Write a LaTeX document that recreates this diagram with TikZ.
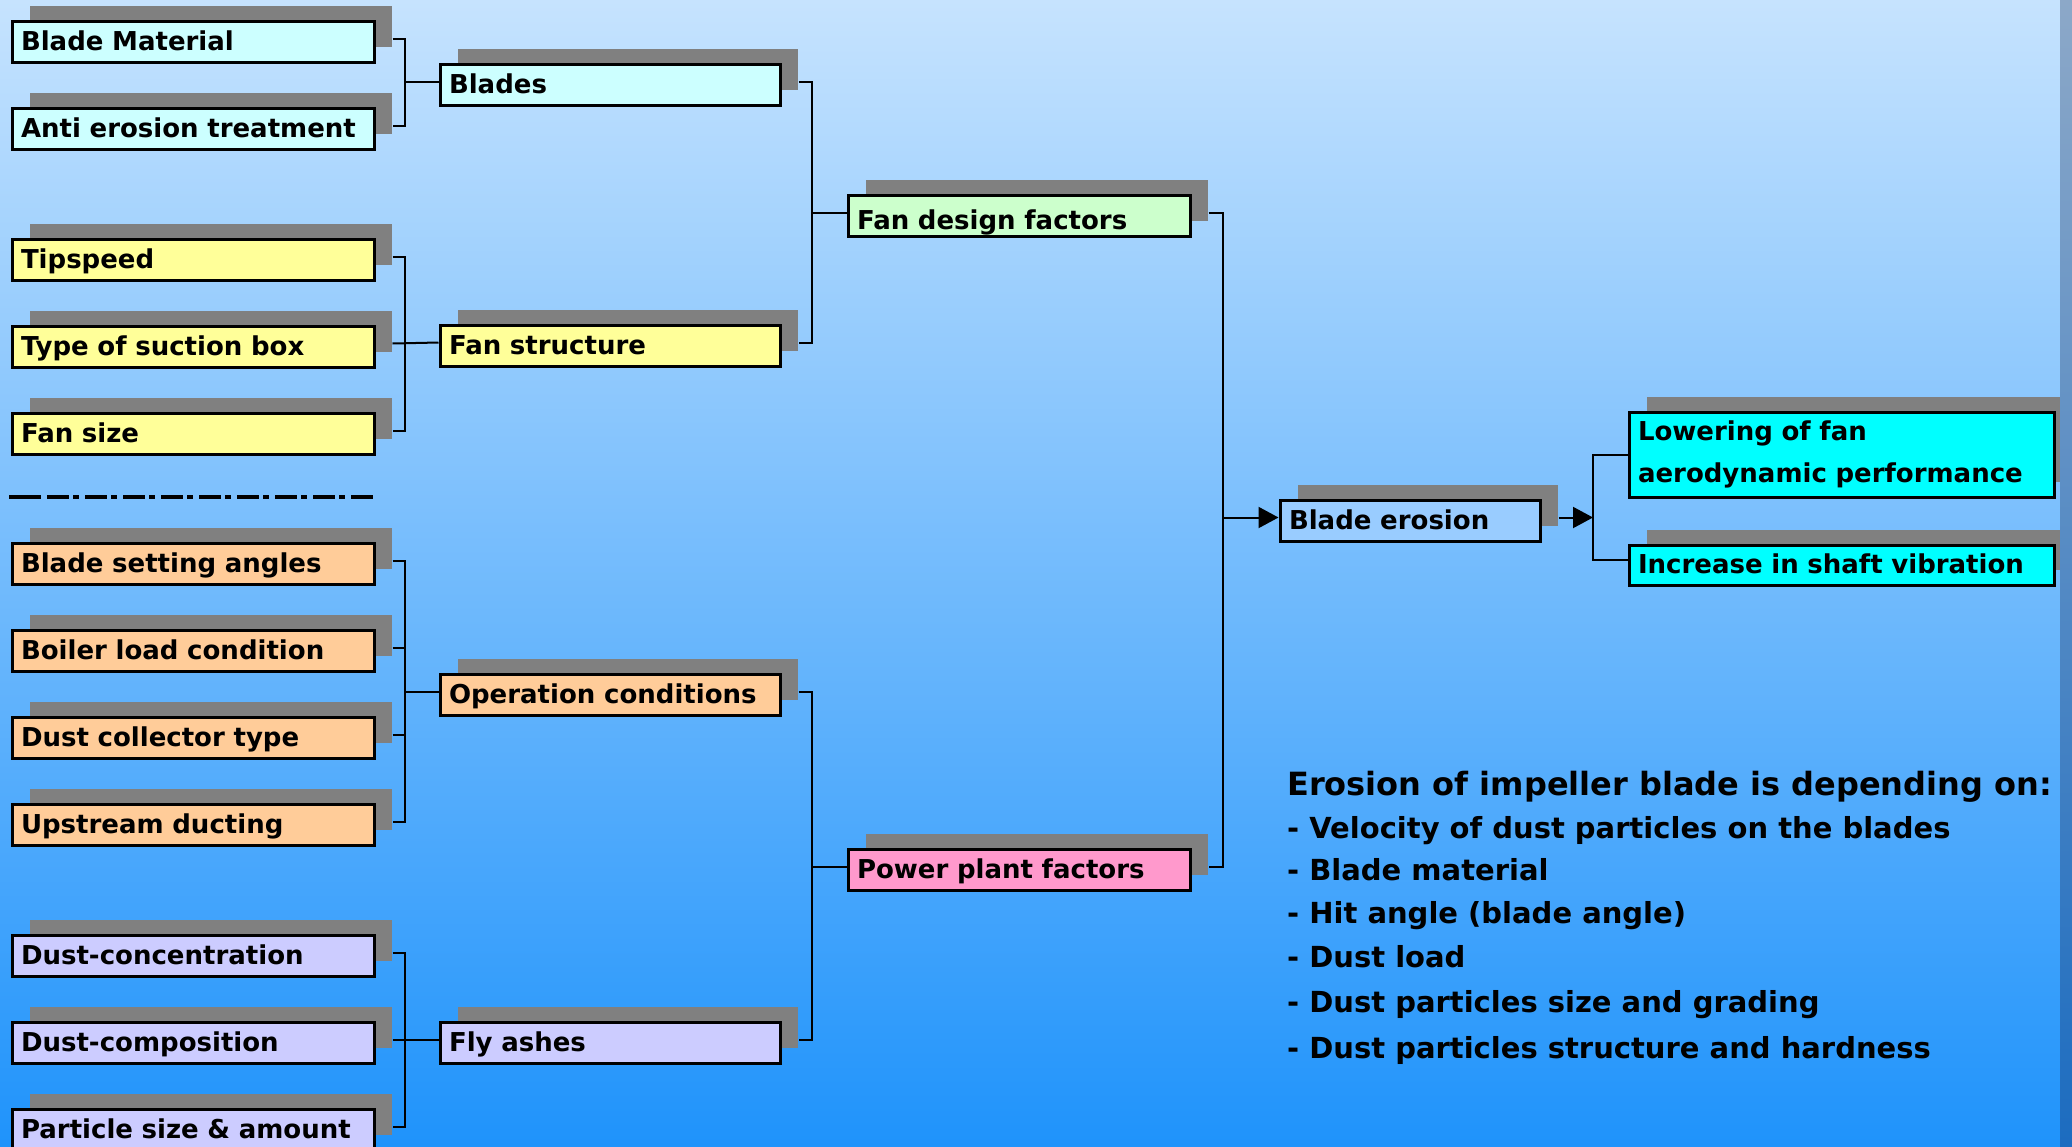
\documentclass[tikz,border=0pt]{standalone}
\usepackage{fontspec}
\setmainfont{DejaVu Sans}
\usetikzlibrary{shadows,arrows.meta,calc}
\definecolor{bgtop}{HTML}{C6E3FE}
\definecolor{bgmid}{HTML}{8AC2FB}
\definecolor{bgbot}{HTML}{1F93FB}
\definecolor{striptop}{HTML}{8CA8C8}
\definecolor{stripbot}{HTML}{1C6CC0}
\definecolor{cyanlt}{HTML}{CCFFFF}
\definecolor{yellowlt}{HTML}{FFFF99}
\definecolor{greenlt}{HTML}{CCFFCC}
\definecolor{orangelt}{HTML}{FFCC99}
\definecolor{pinklt}{HTML}{FF99CC}
\definecolor{lavlt}{HTML}{CCCCFF}
\definecolor{erosionc}{HTML}{99CCFF}
\definecolor{effectc}{HTML}{00FFFF}
\definecolor{shadowc}{HTML}{808080}
\begin{document}
\begin{tikzpicture}[x=1pt,y=-1pt,
  box/.style={draw=black, line width=3pt, inner xsep=9pt, inner ysep=0pt,
    anchor=north west, minimum height=41pt, text height=21pt, text depth=4pt,
    align=left, font=\fontsize{26pt}{31pt}\selectfont\bfseries,
    drop shadow={shadow xshift=18pt, shadow yshift=15pt, fill=shadowc, opacity=1}},
  c1/.style={box, text width=344pt},
  c2/.style={box, text width=322pt},
  c3/.style={box, text width=324pt},
  c4/.style={box, text width=242pt},
  c5/.style={box, text width=407pt},
  conn/.style={draw=black, line width=2pt},
  arr/.style={conn, -{Triangle[length=20pt,width=21pt]}},
  rt/.style={anchor=base west, inner sep=0pt, font=\fontsize{29pt}{35pt}\selectfont\bfseries}
]
\useasboundingbox (0,0) rectangle (2072,1146);
\shade[top color=bgtop, middle color=bgmid, bottom color=bgbot] (0,0) rectangle (2072,1146);

% column 1
\node[c1, fill=cyanlt] (bm) at (10.5,19.5) {Blade Material};
\node[c1, fill=cyanlt] (ae) at (10.5,106.5) {Anti erosion treatment};
\node[c1, fill=yellowlt] (ts) at (10.5,237.5) {Tipspeed};
\node[c1, fill=yellowlt] (sb) at (10.5,324.5) {Type of suction box};
\node[c1, fill=yellowlt] (fs) at (10.5,411.5) {Fan size};
\node[c1, fill=orangelt] (ba) at (10.5,541.5) {Blade setting angles};
\node[c1, fill=orangelt] (bl) at (10.5,628.5) {Boiler load condition};
\node[c1, fill=orangelt] (dc) at (10.5,715.5) {Dust collector type};
\node[c1, fill=orangelt] (ud) at (10.5,802.5) {Upstream ducting};
\node[c1, fill=lavlt] (dn) at (10.5,933.5) {Dust-concentration};
\node[c1, fill=lavlt] (dp) at (10.5,1020.5) {Dust-composition};
\node[c1, fill=lavlt] (ps) at (10.5,1107.5) {Particle size \& amount};

% column 2
\node[c2, fill=cyanlt] (bd) at (438.5,62.5) {Blades};
\node[c2, fill=yellowlt] (fst) at (438.5,323.5) {Fan structure};
\node[c2, fill=orangelt] (oc) at (438.5,672.5) {Operation conditions};
\node[c2, fill=lavlt] (fa) at (438.5,1020.5) {Fly ashes};

% column 3
\node[c3, fill=greenlt, text height=31pt, text depth=3pt] (fd) at (846.5,193.5) {Fan design factors};
\node[c3, fill=pinklt] (pp) at (846.5,847.5) {Power plant factors};

% erosion and effects
\node[c4, fill=erosionc] (be) at (1278.5,498.5) {Blade erosion};
\node[c5, fill=effectc, minimum height=85pt, text height=24pt, text depth=52pt,
  font=\fontsize{26pt}{42pt}\selectfont\bfseries] (lo) at (1627.5,410.5)
  {Lowering of fan\\aerodynamic performance};
\node[c5, fill=effectc, minimum height=40pt] (ic) at (1627.5,543.5) {Increase in shaft vibration};

% connection points
\foreach \n in {bm,ae,ts,sb,fs,ba,bl,dc,ud,dn,dp,ps,bd,fst,oc,fa,fd,pp,be}{
  \coordinate (\n-o) at ($(\n.east)+(17,-3)$);
  \coordinate (\n-i) at ($(\n.west)+(0,-3)$);
}
\coordinate (lo-i) at (lo.west);
\coordinate (ic-i) at ($(ic.west)+(0,-5)$);
\coordinate (j1) at (405,0);
\coordinate (j2) at (812,0);
\coordinate (j3) at (1223,0);
\coordinate (j4) at (1593,0);

% column 1 -> column 2
\draw[conn] (bm-o) -| (ae-o -| j1) -- (ae-o);
\draw[conn] (j1 |- bd-i) -- (bd-i);
\draw[conn] (ts-o) -| (fs-o -| j1) -- (fs-o);
\draw[conn] (sb-o) -- (fst-i);
\draw[conn] (ba-o) -| (ud-o -| j1) -- (ud-o);
\draw[conn] (bl-o) -- (bl-o -| j1);
\draw[conn] (dc-o) -- (dc-o -| j1);
\draw[conn] (j1 |- oc-i) -- (oc-i);
\draw[conn] (dn-o) -| (ps-o -| j1) -- (ps-o);
\draw[conn] (dp-o) -- (fa-i);

% column 2 -> column 3
\draw[conn] (bd-o) -| (fst-o -| j2) -- (fst-o);
\draw[conn] (j2 |- fd-i) -- (fd-i);
\draw[conn] (oc-o) -| (fa-o -| j2) -- (fa-o);
\draw[conn] (j2 |- pp-i) -- (pp-i);

% column 3 -> erosion
\draw[conn] (fd-o) -| (pp-o -| j3) -- (pp-o);
\draw[arr] (j3 |- be-i) -- (be-i);

% erosion -> effects
\draw[arr] (be-o) -- (be-o -| j4);
\draw[conn] (lo-i) -| (ic-i -| j4) -- (ic-i);

% dash-dot separator
\coordinate (s1) at (9,497);
\coordinate (s2) at (41,497);
\coordinate (s3) at (47,497);
\coordinate (s4) at (374,497);
\draw[line width=4pt] (s1) -- (s2);
\draw[line width=4pt, dash pattern=on 22pt off 4pt on 6pt off 6pt] (s3) -- (s4);

% explanatory text
\node[rt, font=\fontsize{32pt}{38pt}\selectfont\bfseries] (t1) at (1287,795) {Erosion of impeller blade is depending on:};
\node[rt] (t2) at (1287,838) {- Velocity of dust particles on the blades};
\node[rt] (t3) at (1287,880) {- Blade material};
\node[rt] (t4) at (1287,923) {- Hit angle (blade angle)};
\node[rt] (t5) at (1287,967) {- Dust load};
\node[rt] (t6) at (1287,1012) {- Dust particles size and grading};
\node[rt] (t7) at (1287,1058) {- Dust particles structure and hardness};

% right edge strip
\shade[top color=striptop, bottom color=stripbot] (2060,0) rectangle (2072,1146);
\end{tikzpicture}
\end{document}
